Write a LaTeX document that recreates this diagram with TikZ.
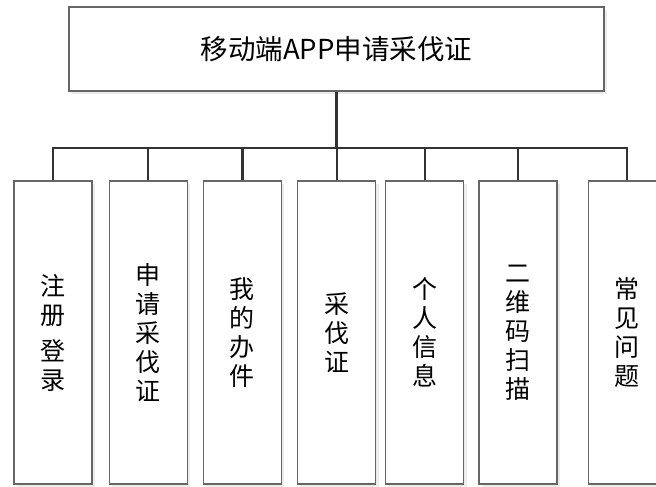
\documentclass[tikz,border=0pt]{standalone}
\usepackage{fontspec}
\setmainfont{Noto Sans CJK SC}
\usetikzlibrary{positioning, shadows}

\begin{document}
\begin{tikzpicture}[
    x=1pt, y=-1pt,
    headbox/.style={rectangle, draw=black!60, line width=1.2pt, fill=white, minimum width=535pt, minimum height=84pt, font=\fontsize{27.5}{31}\selectfont, drop shadow={shadow xshift=3pt, shadow yshift=-3pt, fill=black!12, opacity=0.6}},
    itembox/.style={rectangle, draw=black!60, line width=1.2pt, fill=white, minimum width=78pt, minimum height=303pt, inner sep=0pt, align=center, font=\fontsize{25}{29}\selectfont, drop shadow={shadow xshift=3pt, shadow yshift=-3pt, fill=black!12, opacity=0.6}},
    trunk/.style={draw=black!80, line width=3pt},
    branch/.style={draw=black!80, line width=2.2pt, line join=miter}
]
    \useasboundingbox (0,0) rectangle (656,487);

    % Top box
    \node (title) [headbox] at (336.5,49) {移动端APP申请采伐证};

    % Function boxes
    \node (reg) [itembox] at (53,332.5) {注\\册\\[7pt]登\\录};
    \node (apply) [itembox, right=16pt of reg] {申\\请\\采\\伐\\证};
    \node (mine) [itembox, right=15pt of apply] {我\\的\\办\\件};
    \node (cert) [itembox, right=15pt of mine] {采\\伐\\证};
    \node (info) [itembox, right=9pt of cert] {个\\人\\信\\息};
    \node (scan) [itembox, right=14pt of info] {二\\维\\码\\扫\\描};
    \node (faq) [itembox, right=30pt of scan] {常\\见\\问\\题};

    % Connectors
    \draw[trunk] (title.south) -- ++(0,56) coordinate (hub);
    \draw[branch] (reg.north) |- (hub) -| (faq.north);
    \foreach \n in {apply,mine,cert,info,scan}
        \draw[branch] (hub -| \n.north) -- (\n.north);

\end{tikzpicture}
\end{document}
